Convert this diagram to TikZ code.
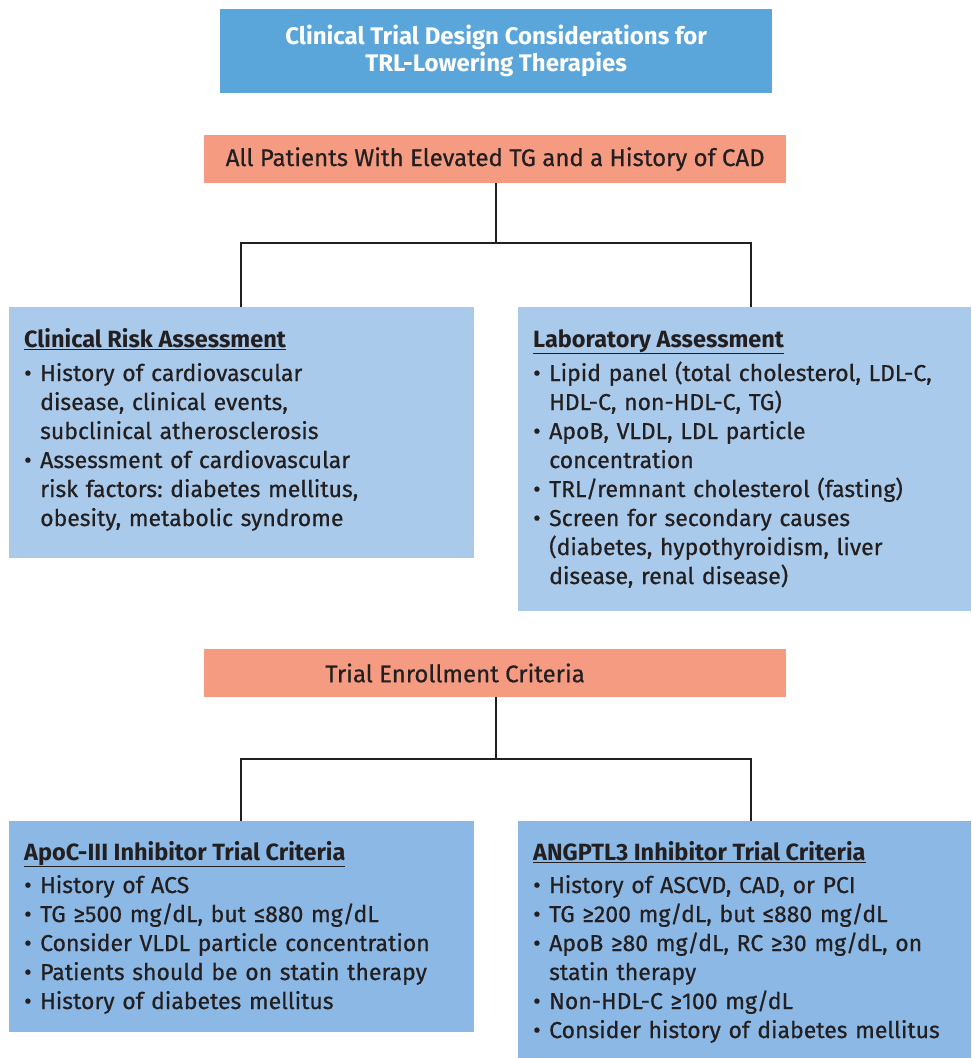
\documentclass[tikz,border=0pt]{standalone}
\usepackage{fontspec}
\setmainfont{Fira Sans}[UprightFeatures={FakeBold=0.6}]
\frenchspacing
\definecolor{titleblue}{HTML}{5AA5DA}
\definecolor{salmon}{HTML}{F49B81}
\definecolor{lightblue}{HTML}{A9CAEA}
\definecolor{midblue}{HTML}{8BB8E4}
\definecolor{ink}{HTML}{231F20}
\newcommand\bl{\makebox[16pt][l]{•}}
\newcommand\cl{\hspace*{16pt}}
\begin{document}
\begin{tikzpicture}[x=1pt,y=-1pt,
  panel/.style={draw=none, inner sep=0pt, anchor=north west},
  hdr/.style={inner sep=0pt, anchor=base west, text=ink, font=\bfseries\fontsize{23.5}{29}\selectfont},
  body/.style={inner sep=0pt, anchor=base west, text=ink, align=left, text width=445pt, font=\frenchspacing\fontsize{23}{29}\selectfont},
  conn/.style={draw=ink, line width=1.5pt}]
\useasboundingbox (0,0) rectangle (972,1058);
% title
\node[panel, fill=titleblue, minimum width=552pt, minimum height=84pt] (title) at (220,9) {};
\node[text=white, align=center, font=\bfseries\fontsize{24}{27}\selectfont] (titletxt) at (title.center) {Clinical Trial Design Considerations for\\TRL-Lowering Therapies};
% patients
\node[panel, fill=salmon, minimum width=582pt, minimum height=48pt] (patients) at (204,135) {};
\node[text=ink, font=\fontsize{24}{27}\selectfont] (patientstxt) at (patients.center) {All Patients With Elevated TG and a History of CAD};
% assessment panels
\node[panel, fill=lightblue, minimum width=465pt, minimum height=251pt] (cra) at (9,307) {};
\node[panel, fill=lightblue, minimum width=453pt, minimum height=304pt] (lab) at (518,307) {};
\node[hdr] (crah) at (24,347) {\underline{Clinical Risk Assessment}};
\node[body] (crab) at (24,381) {\bl History of cardiovascular\\\cl disease, clinical events,\\\cl subclinical atherosclerosis\\\bl Assessment of cardiovascular\\\cl risk factors: diabetes mellitus,\\\cl obesity, metabolic syndrome};
\node[hdr] (labh) at (533,347) {\underline{Laboratory Assessment}};
\node[body] (labb) at (533,381) {\bl Lipid panel (total cholesterol, LDL-C,\\\cl HDL-C, non-HDL-C, TG)\\\bl ApoB, VLDL, LDL particle\\\cl concentration\\\bl TRL/remnant cholesterol (fasting)\\\bl Screen for secondary causes\\\cl (diabetes, hypothyroidism, liver\\\cl disease, renal disease)};
% enrollment
\node[panel, fill=salmon, minimum width=582pt, minimum height=48pt] (enroll) at (204,649) {};
\node[text=ink, font=\fontsize{24}{27}\selectfont] (enrolltxt) at (455,673) {Trial Enrollment Criteria};
% criteria panels
\node[panel, fill=midblue, minimum width=465pt, minimum height=211pt] (apoc) at (9,821) {};
\node[panel, fill=midblue, minimum width=453pt, minimum height=237pt] (ang) at (518,821) {};
\node[hdr] (apoch) at (24,860) {\underline{ApoC-III Inhibitor Trial Criteria}};
\node[body] (apocb) at (24,893) {\bl History of ACS\\\bl TG ≥500 mg/dL, but ≤880 mg/dL\\\bl Consider VLDL particle concentration\\\bl Patients should be on statin therapy\\\bl History of diabetes mellitus};
\node[hdr] (angh) at (533,860) {\underline{ANGPTL3 Inhibitor Trial Criteria}};
\node[body] (angb) at (533,893) {\bl History of ASCVD, CAD, or PCI\\\bl TG ≥200 mg/dL, but ≤880 mg/dL\\\bl ApoB ≥80 mg/dL, RC ≥30 mg/dL, on\\\cl statin therapy\\\bl Non-HDL-C ≥100 mg/dL\\\bl Consider history of diabetes mellitus};
% connectors
\coordinate (j1) at (496,243);
\coordinate (l1) at (241,243);
\coordinate (r1) at (751,243);
\coordinate (labin) at (751,307);
\draw[conn] (patients.south -| j1) -- (j1);
\draw[conn] (cra.north -| l1) |- (r1) -- (labin);
\coordinate (j2) at (496,759);
\coordinate (l2) at (241,759);
\coordinate (r2) at (751,759);
\coordinate (angin) at (751,821);
\draw[conn] (enroll.south -| j2) -- (j2);
\draw[conn] (apoc.north -| l2) |- (r2) -- (angin);
\end{tikzpicture}
\end{document}
